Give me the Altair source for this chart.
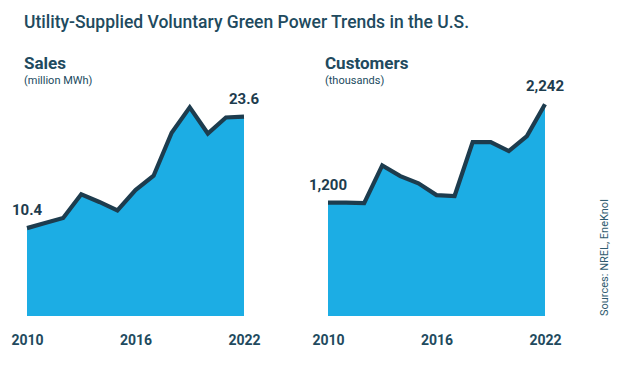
import altair as alt
import pandas as pd

years = list(range(2010, 2023))
sales = [10.4, 11.0, 11.6, 14.4, 13.5, 12.5, 14.9, 16.6, 21.7, 24.7, 21.6, 23.5, 23.6]
customers = [1200, 1200, 1195, 1595, 1482, 1405, 1281, 1271, 1842, 1842, 1747, 1906, 2242]
tick_years = [2010, 2016, 2022]
label_years = [2010, 2022]

TITLE = "Utility-Supplied Voluntary Green Power Trends in the U.S."
SOURCE = "Sources: NREL, EneKnol"
FONT = "Roboto"
FILL = "#1cade4"
LINE = "#1d3c4e"
TEXT = "#214a5e"

df = pd.DataFrame({"year": years, "sales": sales, "customers": customers})


def panel(field, ymax, title, subtitle, fmt, extra=None):
    base = alt.Chart(df).encode(
        x=alt.X(
            "year:Q",
            scale=alt.Scale(domain=[2010, 2022], nice=False, zero=False),
            axis=alt.Axis(
                values=tick_years, format="d", title=None, ticks=False, tickSize=0,
                domain=False, grid=False, labelPadding=17, labelFontSize=14,
                labelFontWeight="bold", labelColor=TEXT, labelFont=FONT,
                labelFlush=False,
            ),
        ),
        y=alt.Y(f"{field}:Q", scale=alt.Scale(domain=[0, ymax], nice=False), axis=None),
    )
    area = base.mark_area(color=FILL, opacity=1)
    line = base.mark_line(color=LINE, strokeWidth=4.2)
    labels = base.mark_text(
        fontSize=15, fontWeight="bold", color=LINE, baseline="bottom", dy=-10, font=FONT
    ).encode(text=alt.Text(f"{field}:Q", format=fmt)).transform_filter(
        alt.FieldOneOfPredicate(field="year", oneOf=label_years)
    )
    layers = [area, line, labels]
    if extra is not None:
        layers.append(extra)
    return alt.layer(*layers).properties(
        width=217,
        height=245,
        title=alt.TitleParams(
            text=title, subtitle=subtitle, anchor="start", frame="group", dx=-3,
            offset=-16, fontSize=17, font=FONT, fontWeight="bold", color=TEXT,
            subtitleFont=FONT, subtitleFontSize=11, subtitleColor=TEXT,
            subtitlePadding=2,
        ),
    )


source = alt.Chart(pd.DataFrame({"t": [SOURCE]})).mark_text(
    angle=270, align="left", baseline="middle", fontSize=11, color="#2f5b70", font=FONT
).encode(x=alt.value(277), y=alt.value(245), text="t:N")

left = panel("sales", 29.0, "Sales", "(million MWh)", ".1f")
right = panel("customers", 2595, "Customers", "(thousands)", ",d", extra=source)

chart = alt.hconcat(left, right, spacing=84, bounds="flush").properties(
    title=alt.TitleParams(
        TITLE, anchor="start", frame="group", dx=-3, fontSize=17.5, font=FONT,
        fontWeight=500, color=TEXT, offset=24,
    ),
    padding={"left": 2, "top": 5, "right": 5, "bottom": 5},
).configure_view(stroke=None)

chart.save("out.html", embed_options={"renderer": "svg", "actions": False})
